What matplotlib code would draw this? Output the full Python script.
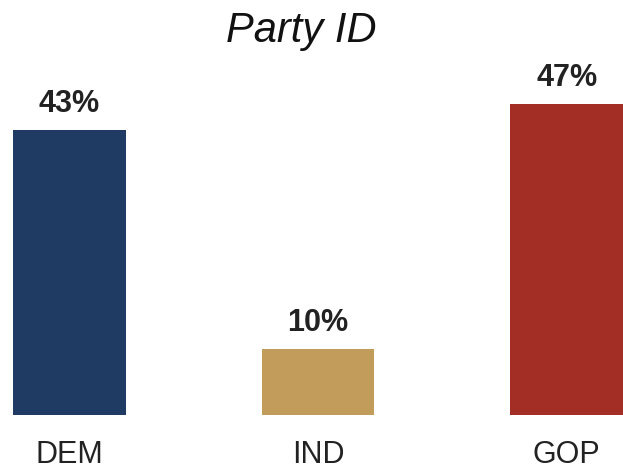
import matplotlib
matplotlib.use("Agg")
import matplotlib.pyplot as plt

parties = ["DEM", "IND", "GOP"]
shares = [43, 10, 47]
bar_colors = ["#1f3a63", "#c19c5b", "#a32e25"]

plt.rcParams["font.family"] = ["Liberation Sans", "DejaVu Sans"]

W, H = 623, 469
fig = plt.figure(figsize=(W / 100, H / 100), dpi=100)
# axes spans from DEM bar left edge to the right edge; 0 at y=415 px, 47 at y=104 px
ax = fig.add_axes([13 / W, (H - 415) / H, 610 / W, (415 - 104) / H])

x = list(range(len(parties)))
ax.bar(x, shares, width=0.454, color=bar_colors)
ax.set_xlim(-0.227, 2.227)
ax.set_ylim(0, 47)

for xi, v in zip(x, shares):
    ax.annotate(f"{v}%", (xi, v), xytext=(0, 13), textcoords="offset points",
                ha="center", va="baseline", fontsize=22, fontweight="bold",
                color="#222222", annotation_clip=False)

ax.set_xticks(x)
ax.set_xticklabels(parties, fontsize=22, color="#222222")
ax.tick_params(axis="x", length=0, pad=18)
ax.set_yticks([])
for s in ax.spines.values():
    s.set_visible(False)

fig.text(301 / W, (H - 42) / H, "Party ID", ha="center", va="baseline",
         fontsize=30, fontstyle="italic", color="#111111")

fig.savefig("out.png", dpi=100)
